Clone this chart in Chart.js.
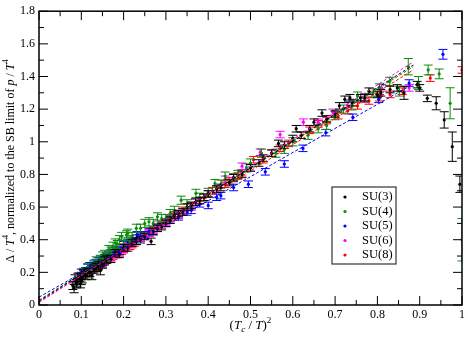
<!DOCTYPE html>
<html>
<head>
<meta charset="utf-8">
<script src="https://cdn.jsdelivr.net/npm/chart.js@4/dist/chart.umd.min.js"></script>
<style>
  html, body { margin: 0; padding: 0; background: #fff; }
  #wrap { width: 468px; height: 338px; }
</style>
</head>
<body>
<div id="wrap"><canvas id="chart" width="468" height="338"></canvas></div>
<script>
// series names + colours
const seriesNames = ["SU(3)", "SU(4)", "SU(5)", "SU(6)", "SU(8)"];
const seriesColors = ["#000000", "#0b8c0b", "#0000ff", "#ff00ff", "#ff0000"];

// SU(3)
const su3X = [0.08, 0.083, 0.085, 0.088, 0.09, 0.092, 0.095, 0.098, 0.1, 0.102,
  0.105, 0.11, 0.115, 0.12, 0.125, 0.13, 0.135, 0.14, 0.145, 0.15,
  0.155, 0.16, 0.17, 0.18, 0.19, 0.2, 0.21, 0.22, 0.23, 0.24,
  0.25, 0.265, 0.27, 0.28, 0.29, 0.3, 0.31, 0.32, 0.33, 0.34,
  0.35, 0.36, 0.37, 0.38, 0.39, 0.4, 0.42, 0.43, 0.45, 0.46,
  0.48, 0.5, 0.52, 0.53, 0.55, 0.566, 0.58, 0.6, 0.608, 0.62,
  0.64, 0.65, 0.669, 0.68, 0.7, 0.71, 0.723, 0.735, 0.74, 0.76,
  0.77, 0.78, 0.8, 0.808, 0.83, 0.847, 0.863, 0.894, 0.9, 0.918,
  0.939, 0.958, 0.977, 0.995];
const su3Y = [0.12, 0.10, 0.16, 0.13, 0.14, 0.17, 0.17, 0.13, 0.15, 0.16,
  0.19, 0.18, 0.2, 0.2, 0.18, 0.22, 0.23, 0.24, 0.21, 0.25,
  0.27, 0.28, 0.28, 0.32, 0.31, 0.35, 0.35, 0.38, 0.39, 0.4,
  0.42, 0.39, 0.45, 0.47, 0.48, 0.5, 0.52, 0.55, 0.56, 0.57,
  0.6, 0.61, 0.63, 0.64, 0.66, 0.68, 0.71, 0.72, 0.75, 0.78,
  0.8, 0.84, 0.87, 0.9, 0.93, 0.99, 0.98, 1.02, 1.08, 1.04,
  1.08, 1.12, 1.176, 1.14, 1.17, 1.22, 1.26, 1.27, 1.24, 1.27,
  1.27, 1.31, 1.29, 1.3, 1.32, 1.33, 1.3, 1.35, 1.33, 1.266,
  1.236, 1.134, 0.97, 0.74];
const su3Err = [0.025, 0.025, 0.025, 0.025, 0.025, 0.025, 0.025, 0.025, 0.025, 0.025,
  0.025, 0.025, 0.025, 0.025, 0.025, 0.025, 0.025, 0.025, 0.025, 0.025,
  0.025, 0.025, 0.02, 0.02, 0.02, 0.02, 0.02, 0.02, 0.02, 0.02,
  0.02, 0.02, 0.02, 0.02, 0.02, 0.02, 0.02, 0.02, 0.02, 0.02,
  0.02, 0.02, 0.02, 0.02, 0.02, 0.02, 0.02, 0.02, 0.02, 0.02,
  0.02, 0.02, 0.02, 0.02, 0.02, 0.02, 0.02, 0.02, 0.02, 0.02,
  0.02, 0.02, 0.02, 0.02, 0.02, 0.02, 0.02, 0.02, 0.02, 0.02,
  0.02, 0.02, 0.02, 0.02, 0.02, 0.02, 0.04, 0.02, 0.02, 0.02,
  0.04, 0.05, 0.09, 0.05];

// SU(4)
const su4X = [0.1, 0.105, 0.11, 0.115, 0.12, 0.125, 0.13, 0.135, 0.14, 0.145,
  0.15, 0.155, 0.16, 0.165, 0.17, 0.175, 0.18, 0.185, 0.19, 0.195,
  0.2, 0.207, 0.21, 0.215, 0.22, 0.23, 0.24, 0.25, 0.26, 0.27,
  0.28, 0.29, 0.3, 0.31, 0.32, 0.336, 0.35, 0.371, 0.38, 0.4,
  0.416, 0.43, 0.44, 0.46, 0.47, 0.49, 0.5, 0.526, 0.56, 0.58,
  0.6, 0.636, 0.66, 0.68, 0.7, 0.72, 0.74, 0.753, 0.77, 0.79,
  0.805, 0.829, 0.852, 0.873, 0.897, 0.92, 0.946, 0.972, 1.0];
const su4Y = [0.17, 0.2, 0.2, 0.23, 0.19, 0.22, 0.25, 0.27, 0.24, 0.28,
  0.3, 0.31, 0.29, 0.34, 0.33, 0.36, 0.38, 0.37, 0.4, 0.42,
  0.37, 0.43, 0.44, 0.4, 0.42, 0.47, 0.47, 0.5, 0.51, 0.5,
  0.54, 0.53, 0.53, 0.56, 0.58, 0.642, 0.62, 0.684, 0.66, 0.69,
  0.744, 0.74, 0.79, 0.78, 0.8, 0.84, 0.87, 0.93, 0.93, 0.954,
  1.0, 1.04, 1.08, 1.1, 1.16, 1.2, 1.22, 1.28, 1.27, 1.3,
  1.33, 1.37, 1.31, 1.46, 1.36, 1.44, 1.416, 1.236, 0.4];
const su4Err = [0.025, 0.025, 0.025, 0.025, 0.025, 0.025, 0.025, 0.025, 0.025, 0.025,
  0.025, 0.025, 0.025, 0.025, 0.025, 0.025, 0.025, 0.025, 0.025, 0.025,
  0.025, 0.025, 0.025, 0.025, 0.025, 0.025, 0.025, 0.025, 0.025, 0.025,
  0.025, 0.025, 0.025, 0.025, 0.025, 0.025, 0.025, 0.025, 0.025, 0.025,
  0.025, 0.025, 0.025, 0.025, 0.025, 0.025, 0.025, 0.025, 0.025, 0.025,
  0.025, 0.025, 0.025, 0.025, 0.025, 0.025, 0.025, 0.025, 0.025, 0.025,
  0.025, 0.025, 0.03, 0.05, 0.04, 0.03, 0.03, 0.095, 0.13];

// SU(5)
const su5X = [0.1, 0.105, 0.11, 0.115, 0.12, 0.125, 0.13, 0.135, 0.14, 0.145,
  0.15, 0.155, 0.16, 0.165, 0.17, 0.175, 0.185, 0.19, 0.2, 0.21,
  0.22, 0.23, 0.232, 0.24, 0.25, 0.26, 0.27, 0.28, 0.3, 0.31,
  0.33, 0.35, 0.36, 0.38, 0.4, 0.42, 0.43, 0.46, 0.495, 0.535,
  0.58, 0.624, 0.678, 0.742, 0.803, 0.875, 0.955];
const su5Y = [0.2, 0.2, 0.21, 0.23, 0.24, 0.24, 0.25, 0.26, 0.27, 0.28,
  0.26, 0.29, 0.3, 0.31, 0.32, 0.33, 0.34, 0.33, 0.37, 0.38,
  0.39, 0.41, 0.43, 0.42, 0.43, 0.45, 0.45, 0.47, 0.5, 0.52,
  0.54, 0.57, 0.58, 0.62, 0.61, 0.66, 0.67, 0.72, 0.74, 0.816,
  0.864, 0.96, 1.056, 1.15, 1.26, 1.36, 1.536];
const su5Err = [0.02, 0.02, 0.02, 0.02, 0.02, 0.02, 0.02, 0.02, 0.02, 0.02,
  0.02, 0.02, 0.02, 0.02, 0.02, 0.02, 0.02, 0.02, 0.02, 0.02,
  0.02, 0.02, 0.02, 0.02, 0.02, 0.02, 0.02, 0.02, 0.02, 0.02,
  0.02, 0.02, 0.02, 0.02, 0.02, 0.02, 0.02, 0.02, 0.02, 0.02,
  0.02, 0.02, 0.02, 0.02, 0.02, 0.02, 0.03];

// SU(6)
const su6X = [0.1, 0.11, 0.12, 0.13, 0.14, 0.15, 0.16, 0.17, 0.18, 0.19,
  0.2, 0.21, 0.22, 0.23, 0.24, 0.25, 0.26, 0.27, 0.28, 0.29,
  0.3, 0.31, 0.33, 0.34, 0.36, 0.37, 0.4, 0.42, 0.44, 0.46,
  0.48, 0.5, 0.523, 0.57, 0.625, 0.66, 0.695, 0.73, 0.77, 0.81,
  0.875];
const su6Y = [0.18, 0.19, 0.21, 0.22, 0.24, 0.25, 0.28, 0.29, 0.31, 0.32,
  0.34, 0.36, 0.38, 0.39, 0.41, 0.42, 0.44, 0.46, 0.48, 0.5,
  0.51, 0.53, 0.55, 0.57, 0.6, 0.63, 0.68, 0.71, 0.77, 0.78,
  0.85, 0.84, 0.936, 1.044, 1.12, 1.12, 1.18, 1.22, 1.26, 1.33,
  1.33];
const su6Err = [0.02, 0.02, 0.02, 0.02, 0.02, 0.02, 0.02, 0.02, 0.02, 0.02,
  0.02, 0.02, 0.02, 0.02, 0.02, 0.02, 0.02, 0.02, 0.02, 0.02,
  0.02, 0.02, 0.02, 0.02, 0.02, 0.02, 0.02, 0.02, 0.02, 0.02,
  0.02, 0.02, 0.02, 0.02, 0.02, 0.02, 0.02, 0.02, 0.02, 0.02,
  0.02];

// SU(8)
const su8X = [0.1, 0.105, 0.11, 0.115, 0.12, 0.125, 0.13, 0.135, 0.14, 0.145,
  0.15, 0.155, 0.16, 0.165, 0.17, 0.175, 0.18, 0.185, 0.19, 0.195,
  0.2, 0.205, 0.21, 0.215, 0.22, 0.225, 0.23, 0.24, 0.25, 0.26,
  0.27, 0.28, 0.29, 0.3, 0.31, 0.32, 0.33, 0.34, 0.36, 0.38,
  0.39, 0.41, 0.42, 0.44, 0.45, 0.47, 0.48, 0.507, 0.53, 0.55,
  0.57, 0.59, 0.62, 0.64, 0.66, 0.68, 0.707, 0.73, 0.753, 0.78,
  0.805, 0.83, 0.859, 0.925, 1.0];
const su8Y = [0.18, 0.19, 0.2, 0.2, 0.21, 0.22, 0.23, 0.23, 0.24, 0.25,
  0.26, 0.27, 0.28, 0.28, 0.29, 0.3, 0.31, 0.31, 0.32, 0.33,
  0.34, 0.35, 0.36, 0.36, 0.37, 0.38, 0.39, 0.41, 0.43, 0.44,
  0.46, 0.47, 0.49, 0.51, 0.53, 0.54, 0.56, 0.58, 0.61, 0.64,
  0.66, 0.7, 0.71, 0.74, 0.76, 0.79, 0.81, 0.89, 0.89, 0.93,
  0.96, 0.99, 1.04, 1.07, 1.11, 1.13, 1.16, 1.19, 1.22, 1.25,
  1.27, 1.29, 1.31, 1.39, 1.44];
const su8Err = [0.02, 0.02, 0.02, 0.02, 0.02, 0.02, 0.02, 0.02, 0.02, 0.02,
  0.02, 0.02, 0.02, 0.02, 0.02, 0.02, 0.02, 0.02, 0.02, 0.02,
  0.02, 0.02, 0.02, 0.02, 0.02, 0.02, 0.02, 0.02, 0.02, 0.02,
  0.02, 0.02, 0.02, 0.02, 0.02, 0.02, 0.02, 0.02, 0.02, 0.02,
  0.02, 0.02, 0.02, 0.02, 0.02, 0.02, 0.02, 0.02, 0.02, 0.02,
  0.02, 0.02, 0.02, 0.02, 0.02, 0.02, 0.02, 0.02, 0.02, 0.02,
  0.02, 0.02, 0.02, 0.02, 0.02];

// linear fits (value at x=0 and at x=fitXEnd)
const fitXEnd = 0.885;
const fitStart = [0.025, 0.03, 0.048, 0.015, 0.02];
const fitEnd = [1.47, 1.46, 1.355, 1.49, 1.44];

const seriesX = [su3X, su4X, su5X, su6X, su8X];
const seriesY = [su3Y, su4Y, su5Y, su6Y, su8Y];
const seriesErr = [su3Err, su4Err, su5Err, su6Err, su8Err];

const serif = "'Liberation Serif', 'DejaVu Serif', serif";

const datasets = [];
seriesNames.forEach((name, i) => {
  datasets.push({
    type: "line",
    label: name + " fit",
    data: [{ x: 0, y: fitStart[i] }, { x: fitXEnd, y: fitEnd[i] }],
    borderColor: seriesColors[i],
    borderWidth: 1,
    borderDash: [3, 2],
    pointRadius: 0,
    fill: false,
  });
});
seriesNames.forEach((name, i) => {
  datasets.push({
    type: "scatter",
    label: name,
    data: seriesX[i].map((x, k) => ({ x, y: seriesY[i][k] })),
    errors: seriesErr[i],
    backgroundColor: seriesColors[i],
    borderColor: seriesColors[i],
    borderWidth: 0,
    pointRadius: 1.6,
  });
});

// error bars drawn just before each scatter dataset
const errorBars = {
  id: "errorBars",
  beforeDatasetDraw(chart, args) {
    const ds = chart.data.datasets[args.index];
    if (!ds.errors) return;
    const { ctx, chartArea, scales } = chart;
    ctx.save();
    ctx.beginPath();
    ctx.rect(chartArea.left, chartArea.top, chartArea.width, chartArea.height);
    ctx.clip();
    ctx.strokeStyle = ds.borderColor;
    ctx.lineWidth = 1;
    ds.data.forEach((p, k) => {
      const e = ds.errors[k] ?? 0;
      const px = scales.x.getPixelForValue(p.x);
      const y1 = scales.y.getPixelForValue(p.y + e);
      const y2 = scales.y.getPixelForValue(p.y - e);
      ctx.beginPath();
      ctx.moveTo(px, y1); ctx.lineTo(px, y2);
      ctx.moveTo(px - 4.5, y1); ctx.lineTo(px + 4.5, y1);
      ctx.moveTo(px - 4.5, y2); ctx.lineTo(px + 4.5, y2);
      ctx.stroke();
    });
    ctx.restore();
  },
};

// draws a run of text pieces (italic / sup / sub) centred on (0,0)
function drawRich(ctx, parts, size) {
  const fontFor = p => (p.it ? "italic " : "") + (p.sup || p.sub ? size * 0.7 : size) + "px " + serif;
  let total = 0;
  parts.forEach(p => { ctx.font = fontFor(p); total += ctx.measureText(p.t).width; });
  let x = -total / 2;
  ctx.textBaseline = "middle";
  ctx.textAlign = "left";
  parts.forEach(p => {
    ctx.font = fontFor(p);
    const dy = p.sup ? -size * 0.4 : p.sub ? size * 0.3 : 0;
    ctx.fillText(p.t, x, dy);
    x += ctx.measureText(p.t).width;
  });
}

const xTitle = [{ t: "(" }, { t: "T", it: true }, { t: "c", it: true, sub: true }, { t: " / " }, { t: "T", it: true }, { t: ")" }, { t: "2", sup: true }];
const yTitle = [{ t: "Δ / " }, { t: "T", it: true }, { t: "4", sup: true }, { t: ", normalized to the SB limit of " }, { t: "p", it: true }, { t: " / " }, { t: "T", it: true }, { t: "4", sup: true }];

// frame, inward ticks on all sides, axis titles, legend box
const frame = {
  id: "frame",
  afterDraw(chart) {
    const { ctx, chartArea: a, scales } = chart;
    ctx.save();
    ctx.strokeStyle = "#000";
    ctx.lineWidth = 1;
    for (let v = 0; v <= 20; v++) {
      const x = scales.x.getPixelForValue(v * 0.05);
      const len = v % 2 === 0 ? 9 : 5;
      ctx.beginPath();
      ctx.moveTo(x, a.bottom); ctx.lineTo(x, a.bottom - len);
      ctx.moveTo(x, a.top); ctx.lineTo(x, a.top + len);
      ctx.stroke();
    }
    for (let v = 0; v <= 18; v++) {
      const y = scales.y.getPixelForValue(v * 0.1);
      const len = v % 2 === 0 ? 9 : 5;
      ctx.beginPath();
      ctx.moveTo(a.left, y); ctx.lineTo(a.left + len, y);
      ctx.moveTo(a.right, y); ctx.lineTo(a.right - len, y);
      ctx.stroke();
    }
    ctx.lineWidth = 1.5;
    ctx.strokeRect(a.left, a.top, a.right - a.left, a.bottom - a.top);

    // axis titles
    ctx.fillStyle = "#000";
    ctx.save();
    ctx.translate((a.left + a.right) / 2, 326);
    drawRich(ctx, xTitle, 13);
    ctx.restore();
    ctx.save();
    ctx.translate(11, (a.top + a.bottom) / 2 + 3);
    ctx.rotate(-Math.PI / 2);
    drawRich(ctx, yTitle, 12);
    ctx.restore();

    // legend
    const lx = 332, ly = 187, lw = 64, lh = 77;
    ctx.fillStyle = "#fff";
    ctx.fillRect(lx, ly, lw, lh);
    ctx.lineWidth = 1.2;
    ctx.strokeStyle = "#333";
    ctx.strokeRect(lx, ly, lw, lh);
    ctx.font = "12.5px " + serif;
    ctx.textBaseline = "middle";
    ctx.textAlign = "left";
    seriesNames.forEach((name, i) => {
      const y = ly + 10 + i * 14.5;
      ctx.fillStyle = seriesColors[i];
      ctx.beginPath();
      ctx.arc(lx + 13, y, 1.6, 0, Math.PI * 2);
      ctx.fill();
      ctx.fillStyle = "#000";
      ctx.fillText(name, lx + 30, y);
    });
    ctx.restore();
  },
};

new Chart(document.getElementById("chart").getContext("2d"), {
  data: { datasets },
  options: {
    responsive: false,
    animation: false,
    layout: { autoPadding: false, padding: { top: 5, right: 3, left: 0, bottom: 0 } },
    plugins: { legend: { display: false }, tooltip: { enabled: false } },
    scales: {
      x: {
        type: "linear",
        min: 0,
        max: 1,
        afterFit: s => { s.height = 33; },
        grid: { display: false, drawTicks: false },
        border: { display: false },
        ticks: {
          stepSize: 0.1,
          color: "#000",
          padding: 3,
          font: { family: serif, size: 12 },
          callback: v => String(Number(v.toFixed(1))),
        },
      },
      y: {
        type: "linear",
        min: 0,
        max: 1.8,
        afterFit: s => { s.width = 39; },
        grid: { display: false, drawTicks: false },
        border: { display: false },
        ticks: {
          stepSize: 0.2,
          color: "#000",
          padding: 4,
          font: { family: serif, size: 12 },
          callback: v => String(Number(v.toFixed(1))),
        },
      },
    },
  },
  plugins: [errorBars, frame],
});
</script>
</body>
</html>
